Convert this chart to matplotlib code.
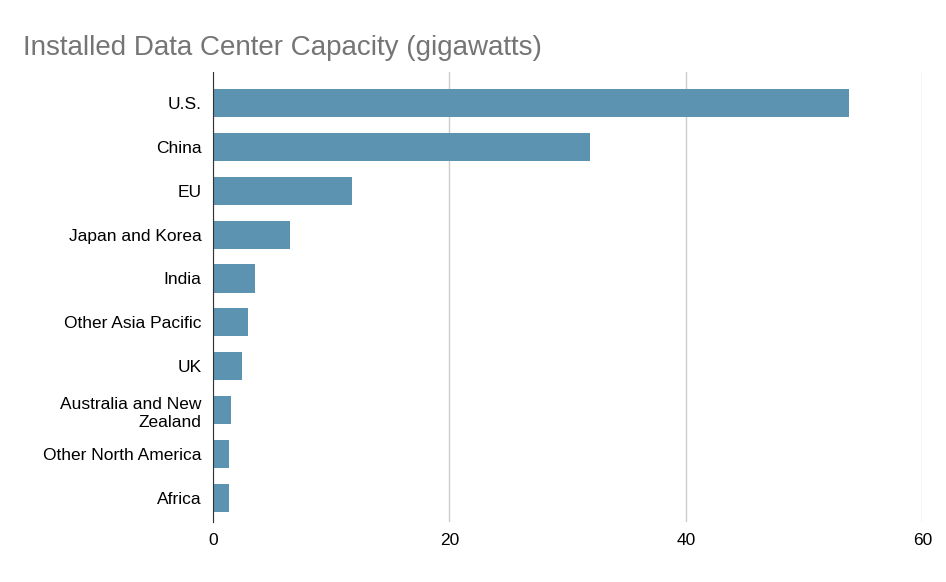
import matplotlib.pyplot as plt

regions = ["U.S.", "China", "EU", "Japan and Korea", "India", "Other Asia Pacific",
           "UK", "Australia and New\nZealand", "Other North America", "Africa"]
capacity_gw = [53.8, 31.9, 11.8, 6.5, 3.6, 3.0, 2.5, 1.5, 1.4, 1.4]
xticks = [0, 20, 40, 60]

plt.rcParams['font.family'] = ['Liberation Sans', 'DejaVu Sans']

fig = plt.figure(figsize=(9.46, 5.82), dpi=100)
ax = fig.add_axes([0.225, 0.103, 0.75, 0.773])

ypos = list(range(len(regions)))[::-1]
ax.barh(ypos, capacity_gw, height=0.64, color="#5b93b0", zorder=3)
ax.set_yticks(ypos)
ax.set_yticklabels(regions, fontsize=12.5, linespacing=1.25)
ax.set_xticks(xticks)
ax.set_xticklabels([str(t) for t in xticks], fontsize=12.5)
ax.set_xlim(0, 60)
ax.set_ylim(-0.55, len(regions) - 1 + 0.7)
ax.grid(axis='x', color='#cccccc', linewidth=1, zorder=0)
ax.tick_params(length=0, pad=8)
for s in ['top', 'right', 'bottom']:
    ax.spines[s].set_visible(False)
ax.spines['left'].set_color('#333333')
ax.spines['left'].set_zorder(4)

fig.text(0.024, 0.905, "Installed Data Center Capacity (gigawatts)", fontsize=20,
         color="#757575")

fig.savefig("out.png", dpi=100)
